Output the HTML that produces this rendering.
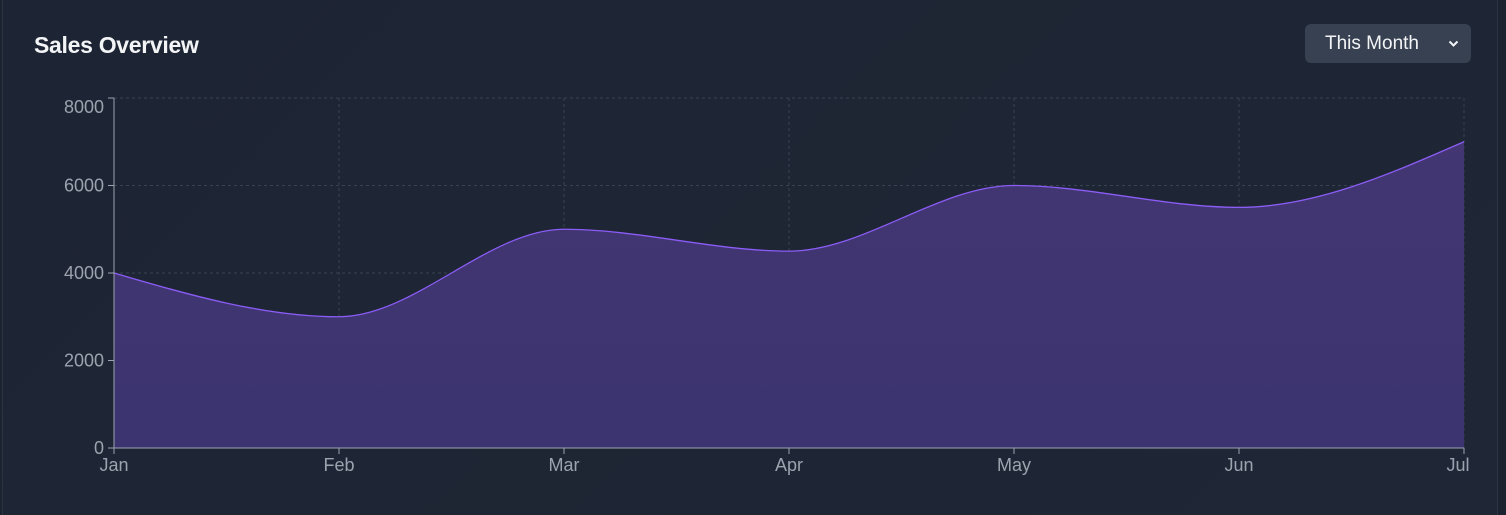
<!DOCTYPE html>
<html><head><meta charset="utf-8"><style>
html,body{margin:0;padding:0;background:#1b2230;width:1506px;height:515px;overflow:hidden;position:relative;}
.card{position:absolute;left:2px;top:-10px;width:1496px;height:540px;border:1px solid #2c3444;border-radius:10px;background:linear-gradient(135deg,#1d2433,#1f2736);box-sizing:border-box;font-family:"Liberation Sans",sans-serif;}
.title{position:absolute;left:31px;top:41px;color:#f3f4f6;font-size:23px;font-weight:bold;letter-spacing:-0.3px;}
.sel{position:absolute;left:1302px;top:33px;width:166px;height:39px;background:#374151;border-radius:6px;color:#f3f4f6;font-size:19px;line-height:40px;box-sizing:border-box;padding-left:20px;}
.sel svg{position:absolute;right:12px;top:16px;}
#ch{position:absolute;left:0;top:0;}
</style></head><body>
<div class="card">
<div class="title">Sales Overview</div>
<div class="sel">This Month<svg width="11" height="8" viewBox="0 0 11 8"><path d="M1.5 1.5 L5.5 5.5 L9.5 1.5" fill="none" stroke="#f3f4f6" stroke-width="2"/></svg></div>
</div>
<svg id="ch" width="1506" height="515"></svg>
<script>
const months=["Jan","Feb","Mar","Apr","May","Jun","Jul"];
const sales=[4000,3000,5000,4500,6000,5500,7000];
const yTicks=[0,2000,4000,6000,8000];
const X0=114,X1=1464,Y0=448,Y1=98,YMAX=8000;
const xs=i=>X0+(X1-X0)*i/(months.length-1);
const ys=v=>Y0-(Y0-Y1)*v/YMAX;
const svg=document.getElementById('ch');const NS='http://www.w3.org/2000/svg';
function mk(t,a,p){const e=document.createElementNS(NS,t);for(const k in a)e.setAttribute(k,a[k]);(p||svg).appendChild(e);return e;}
const defs=mk('defs',{});const g=mk('linearGradient',{id:'gr',x1:0,y1:0,x2:0,y2:1},defs);
mk('stop',{offset:0,'stop-color':'#433672'},g);mk('stop',{offset:1,'stop-color':'#3b3470'},g);
yTicks.forEach(t=>{const l=mk('line',{x1:X0,x2:X1,y1:ys(t),y2:ys(t),stroke:'#3a4252','stroke-dasharray':'3 3'});

});
months.forEach((m,i)=>{const l=mk('line',{x1:xs(i),x2:xs(i),y1:Y1,y2:Y0,stroke:'#3a4252','stroke-dasharray':'3 3'});

});
const P=sales.map((v,i)=>[xs(i),ys(v)]);const n=P.length;
const d=[],m=[];for(let i=0;i<n-1;i++)d.push((P[i+1][1]-P[i][1])/(P[i+1][0]-P[i][0]));
for(let i=1;i<n-1;i++){const a=d[i-1],b=d[i];const h0=P[i][0]-P[i-1][0],h1=P[i+1][0]-P[i][0];const p=(a*h1+b*h0)/(h0+h1);m[i]=(Math.sign(a)+Math.sign(b))*Math.min(Math.abs(a),Math.abs(b),0.5*Math.abs(p))||0;}
m[0]=(3*d[0]-m[1])/2;m[n-1]=(3*d[n-2]-m[n-2])/2;
let path='M'+P[0][0]+','+P[0][1];
for(let i=0;i<n-1;i++){const h=(P[i+1][0]-P[i][0])/3;path+=`C${P[i][0]+h},${P[i][1]+h*m[i]} ${P[i+1][0]-h},${P[i+1][1]-h*m[i+1]} ${P[i+1][0]},${P[i+1][1]}`;}
const area=mk('path',{d:path+`L${X1},${Y0}L${X0},${Y0}Z`,fill:'url(#gr)'});


const line=mk('path',{d:path,fill:'none',stroke:'#8b5cf6','stroke-width':1.3});


mk('line',{x1:X0,x2:X0,y1:Y1,y2:Y0,stroke:'#9ca3af'});mk('line',{x1:X0,x2:X1,y1:Y0,y2:Y0,stroke:'#9ca3af'});
yTicks.forEach((t,i)=>{mk('line',{x1:X0-6,x2:X0,y1:ys(t),y2:ys(t),stroke:'#9ca3af'});
const dy=i==yTicks.length-1?15:6;
const tx=mk('text',{x:X0-10,y:ys(t)+dy,'text-anchor':'end',fill:'#9ca3af','font-size':18,'font-family':'Liberation Sans,sans-serif'});tx.textContent=t;

});
months.forEach((mo,i)=>{mk('line',{x1:xs(i),x2:xs(i),y1:Y0,y2:Y0+6,stroke:'#9ca3af'});
const off=i==n-1?-6:0;
const tx=mk('text',{x:xs(i)+off,y:Y0+23,'text-anchor':'middle',fill:'#9ca3af','font-size':18,'font-family':'Liberation Sans,sans-serif'});tx.textContent=mo;

});
</script>
</body></html>
